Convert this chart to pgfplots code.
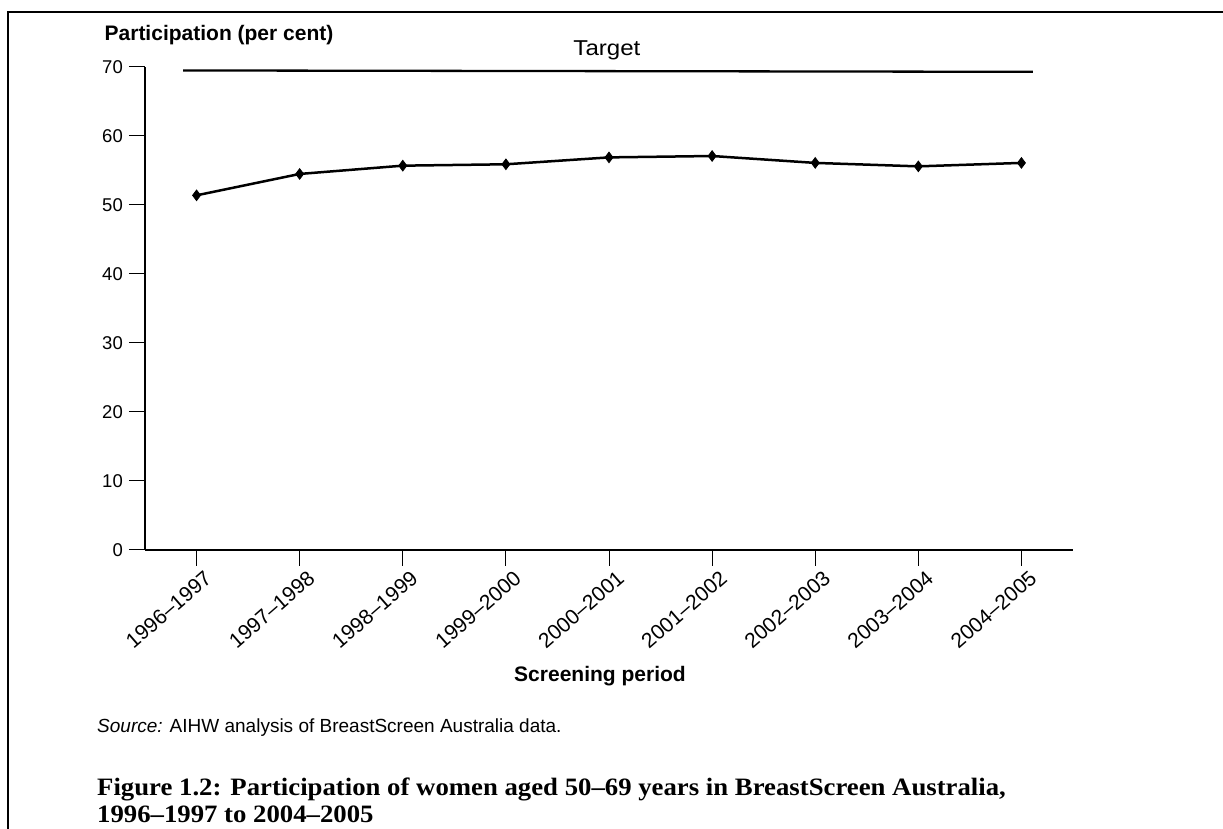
\documentclass[border=0pt]{standalone}
\usepackage{pgfplots}
\pgfplotsset{compat=1.18}
\usepackage{fontspec}
\setmainfont{Liberation Sans}
\newfontfamily\widefont{Liberation Sans}[FakeStretch=1.12]
\newfontfamily\capfont{Liberation Serif}[FakeStretch=1.07]
\begin{document}
\begin{tikzpicture}[x=1pt,y=1pt]
\path[use as bounding box] (0,0) rectangle (1223,829);
\draw[line width=2pt] (8.3,-2) -- (8.3,816.5) -- (1225,816.5);
\begin{axis}[
  at={(145pt,279pt)}, anchor=south west,
  scale only axis, width=928pt, height=483pt,
  xmin=-0.5, xmax=8.5, ymin=0, ymax=70,
  axis lines=left,
  axis line style={-, line width=2pt, black},
  xtick={0,...,8},
  xticklabels={1996–1997,1997–1998,1998–1999,1999–2000,2000–2001,2001–2002,2002–2003,2003–2004,2004–2005},
  ytick={0,10,...,70},
  tick align=outside, major tick length=16pt,
  tick style={line width=1pt, black},
  yticklabel style={font=\fontsize{18.5}{20}\selectfont, inner sep=0pt, xshift=-6pt},
  /pgf/number format/assume math mode=true,
  xticklabel style={font=\fontsize{21}{23}\selectfont, rotate=41, anchor=north east, inner sep=0pt, xshift=3pt, yshift=-7pt},
  clip=false,
]
\addplot[line width=2.5pt, black, mark=diamond*, mark size=5.3pt, mark options={solid, line width=0.8pt}]
  coordinates {(0,51.4) (1,54.5) (2,55.7) (3,55.9) (4,56.9) (5,57.1) (6,56.1) (7,55.6) (8,56.1)};
\addplot[line width=2.3pt, black, no marks] coordinates {(-0.13,69.5) (8.11,69.3)};
\node[font=\widefont\fontsize{21.5}{24}\selectfont, anchor=base] at (axis cs:3.98,71.6) {Target};
\end{axis}
\node[font=\fontsize{21}{23}\selectfont\bfseries] at (219,794) {Participation (per cent)};
\node[font=\fontsize{21}{23}\selectfont\bfseries] at (600,153) {Screening period};
\node[font=\fontsize{19}{21}\selectfont, anchor=west, inner sep=0pt] at (97,101) {\textit{Source:} AIHW analysis of BreastScreen Australia data.};
\node[font=\capfont\fontsize{25}{27}\selectfont\bfseries, anchor=base west, inner sep=0pt] at (97,33) {Figure 1.2: Participation of women aged 50–69 years in BreastScreen Australia,};
\node[font=\capfont\fontsize{25}{27}\selectfont\bfseries, anchor=base west, inner sep=0pt] at (97,6) {1996–1997 to 2004–2005};
\end{tikzpicture}
\end{document}
